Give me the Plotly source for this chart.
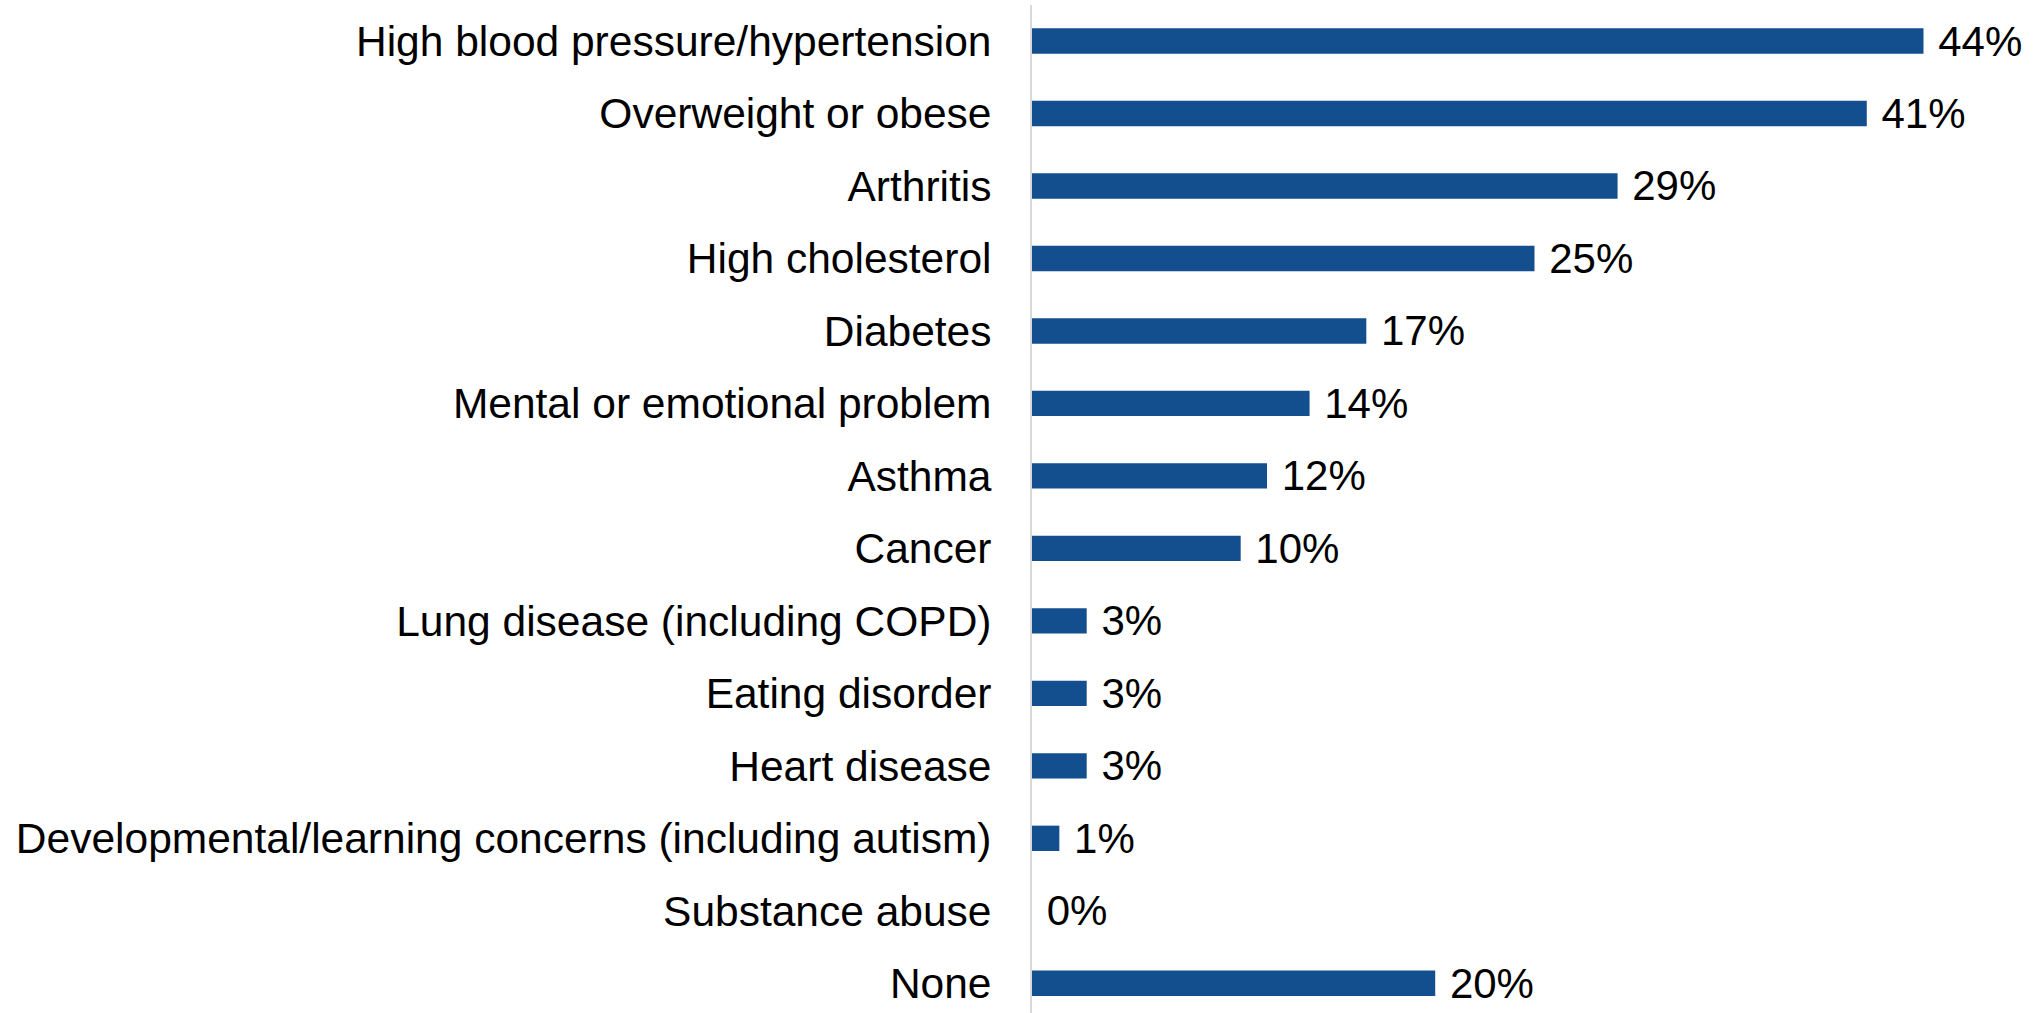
import plotly.graph_objects as go

conditions = [
    "High blood pressure/hypertension",
    "Overweight or obese",
    "Arthritis",
    "High cholesterol",
    "Diabetes",
    "Mental or emotional problem",
    "Asthma",
    "Cancer",
    "Lung disease (including COPD)",
    "Eating disorder",
    "Heart disease",
    "Developmental/learning concerns (including autism)",
    "Substance abuse",
    "None",
]
# bar lengths (unrounded), labels as printed
percent = [44.0, 41.2, 28.9, 24.8, 16.5, 13.7, 11.6, 10.3, 2.7, 2.7, 2.7, 1.35, 0, 19.9]
percent_labels = ["44%", "41%", "29%", "25%", "17%", "14%", "12%", "10%",
                  "3%", "3%", "3%", "1%", "0%", "20%"]

bar_color = "#134E8F"
font_family = "Liberation Sans, Arial, sans-serif"

fig = go.Figure()
fig.add_trace(go.Bar(
    x=percent,
    y=conditions,
    orientation="h",
    marker=dict(color=bar_color, line=dict(width=0)),
    text=["\u00a0" + t for t in percent_labels],
    textposition="outside",
    textfont=dict(size=42, color="black", family=font_family),
    cliponaxis=False,
    constraintext="none",
    hoverinfo="skip",
))

fig.update_layout(
    width=2039,
    height=1013,
    margin=dict(l=1032, r=0, t=5, b=0),
    plot_bgcolor="white",
    paper_bgcolor="white",
    bargap=0.65,
    showlegend=False,
    font=dict(family=font_family, color="black"),
)
fig.update_xaxes(
    range=[0, 49.7],
    visible=False,
    showgrid=False,
    zeroline=False,
)
# categories top to bottom, slightly cut at the bottom like the original
fig.update_yaxes(
    range=[13.41, -0.497],
    showline=True,
    linecolor="#D9D9D9",
    linewidth=2,
    showgrid=False,
    ticks="",
    ticklabelstandoff=30,
    tickfont=dict(size=42.5, color="black", family=font_family),
    automargin=False,
)

# drop the browser's default page margin so the figure sits at 0,0
fig.write_html(
    "out.html",
    config={"displayModeBar": False},
    post_script="document.body.style.margin='0';",
)
